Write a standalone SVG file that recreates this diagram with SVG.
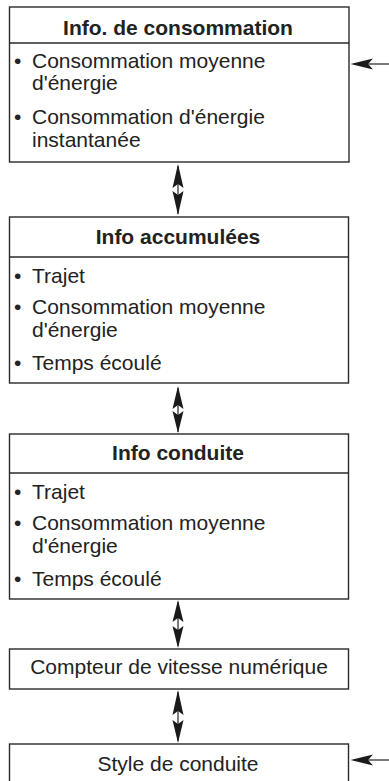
<svg xmlns="http://www.w3.org/2000/svg" width="389" height="781" viewBox="0 0 389 781">
<style>
.box{fill:#fff;stroke:#2a2a2a;stroke-width:1.4}
.div{stroke:#2a2a2a;stroke-width:1.4}
.h{font-family:"Liberation Sans",Arial,sans-serif;font-size:21px;font-weight:bold;fill:#222;text-anchor:middle}
.t{font-family:"Liberation Sans",Arial,sans-serif;font-size:21px;fill:#222}
.c{font-family:"Liberation Sans",Arial,sans-serif;font-size:21px;fill:#222;text-anchor:middle}
.ln{stroke:#222;stroke-width:1.2;fill:none}
.hd{fill:#1a1a1a}
</style>
<rect width="389" height="781" fill="#fff"/>
<g id="node-consommation">
<rect class="box" x="9.5" y="7" width="339.5" height="155"/>
<line class="div" x1="9.5" y1="43" x2="349" y2="43"/>
<text class="h" x="178" y="35">Info. de consommation</text>
<text class="t" x="14" y="68">•</text><text class="t" x="32" y="68">Consommation moyenne</text>
<text class="t" x="32" y="90">d'énergie</text>
<text class="t" x="14" y="124">•</text><text class="t" x="32" y="124">Consommation d'énergie</text>
<text class="t" x="32" y="147">instantanée</text>
</g>
<g id="node-accumulees">
<rect class="box" x="9.5" y="217" width="339" height="166"/>
<line class="div" x1="9.5" y1="257" x2="348.5" y2="257"/>
<text class="h" x="178" y="244">Info accumulées</text>
<text class="t" x="14" y="283">•</text><text class="t" x="32" y="283">Trajet</text>
<text class="t" x="14" y="314">•</text><text class="t" x="32" y="314">Consommation moyenne</text>
<text class="t" x="32" y="337">d'énergie</text>
<text class="t" x="14" y="370">•</text><text class="t" x="32" y="370">Temps écoulé</text>
</g>
<g id="node-conduite">
<rect class="box" x="9.5" y="434" width="339" height="165"/>
<line class="div" x1="9.5" y1="473" x2="348.5" y2="473"/>
<text class="h" x="178" y="460">Info conduite</text>
<text class="t" x="14" y="499">•</text><text class="t" x="32" y="499">Trajet</text>
<text class="t" x="14" y="530">•</text><text class="t" x="32" y="530">Consommation moyenne</text>
<text class="t" x="32" y="553">d'énergie</text>
<text class="t" x="14" y="586">•</text><text class="t" x="32" y="586">Temps écoulé</text>
</g>
<g id="node-compteur">
<rect class="box" x="9.5" y="649" width="339" height="40"/>
<text class="c" x="179" y="674">Compteur de vitesse numérique</text>
</g>
<g id="node-style">
<rect class="box" x="9.5" y="744" width="339" height="50"/>
<text class="c" x="178" y="771">Style de conduite</text>
</g>
<g id="connectors">
<line class="ln" x1="178" y1="166" x2="178" y2="214"/>
<path class="hd" d="M178 164 L183.5 188 L178 184 L172.5 188 Z"/>
<path class="hd" d="M178 215 L183.5 191 L178 195 L172.5 191 Z"/>
<line class="ln" x1="178" y1="388" x2="178" y2="432"/>
<path class="hd" d="M178 386 L183.5 409 L178 405 L172.5 409 Z"/>
<path class="hd" d="M178 433 L183.5 411 L178 415 L172.5 411 Z"/>
<line class="ln" x1="178" y1="602" x2="178" y2="646"/>
<path class="hd" d="M178 600 L183.5 622 L178 618 L172.5 622 Z"/>
<path class="hd" d="M178 648 L183.5 626 L178 630 L172.5 626 Z"/>
<line class="ln" x1="178" y1="692" x2="178" y2="741"/>
<path class="hd" d="M178 690 L183.5 715 L178 711 L172.5 715 Z"/>
<path class="hd" d="M178 743 L183.5 720 L178 724 L172.5 720 Z"/>
<line class="ln" x1="365" y1="64" x2="389" y2="64"/>
<path class="hd" d="M350.5 64 L373 58.5 L368 64 L373 69.5 Z"/>
<line class="ln" x1="365" y1="760" x2="389" y2="760"/>
<path class="hd" d="M350.5 760 L373 754.5 L368 760 L373 765.5 Z"/>
</g>
</svg>
